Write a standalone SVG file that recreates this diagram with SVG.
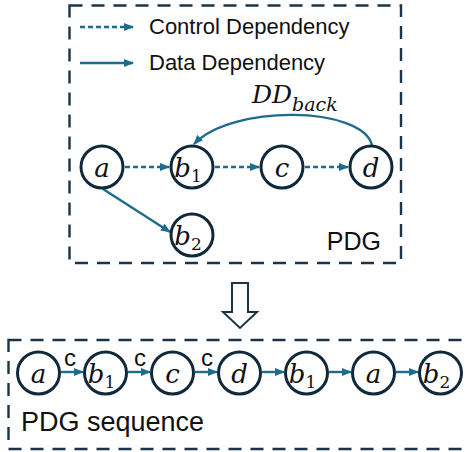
<svg xmlns="http://www.w3.org/2000/svg" width="470" height="452" viewBox="0 0 470 452">
<defs>
<marker id="ah" markerUnits="userSpaceOnUse" markerWidth="10" markerHeight="10" viewBox="0 0 10 10" refX="9" refY="5" orient="auto">
<path d="M0,1 L10,5 L0,9 z" fill="#1f6b8d"/>
</marker>
<style>
.box{fill:none;stroke:#1c3447;stroke-width:2.4;stroke-dasharray:13 9}
.node{fill:#fff;stroke:#10293a;stroke-width:3}
.dep{fill:none;stroke:#1f6b8d;stroke-width:2.4;marker-end:url(#ah)}
.ctl{stroke-dasharray:5 3}
.math{font-family:"DejaVu Serif",serif;font-style:italic;font-size:26px;fill:#111}
.sub{font-style:normal;font-size:17px}
.sans{font-family:"Liberation Sans",Arial,sans-serif;fill:#111}
.hollow{fill:#fff;stroke:#1c3447;stroke-width:2}
</style>
</defs>
<rect class="box" x="69.5" y="5.5" width="331.5" height="257.5"/>
<rect class="box" x="8.5" y="340" width="480" height="109"/>
<g id="legend">
<line class="dep ctl" x1="80" y1="27" x2="133" y2="27"/>
<text class="sans" x="149" y="34" style="font-size:22px">Control Dependency</text>
<line class="dep" x1="80" y1="63" x2="133" y2="63"/>
<text class="sans" x="149" y="70" style="font-size:22px">Data Dependency</text>
</g>
<g id="connectors">
<line class="dep ctl" x1="125" y1="167" x2="169" y2="167"/>
<line class="dep ctl" x1="215" y1="167" x2="259" y2="167"/>
<line class="dep ctl" x1="305" y1="167" x2="348" y2="167"/>
<line class="dep" x1="103" y1="189" x2="170" y2="232"/>
<path class="dep" d="M372,145 C362,106 232,104 194,144"/>
<line class="dep" x1="61" y1="372" x2="83" y2="372"/>
<line class="dep" x1="128" y1="372" x2="150" y2="372"/>
<line class="dep" x1="195" y1="372" x2="217" y2="372"/>
<line class="dep" x1="262" y1="372" x2="284" y2="372"/>
<line class="dep" x1="329" y1="372" x2="351" y2="372"/>
<line class="dep" x1="396" y1="372" x2="418" y2="372"/>
</g>
<text class="math" x="252" y="103" style="font-size:25px">DD<tspan dy="8" style="font-size:19px;font-style:italic">back</tspan></text>
<g id="n_a"><circle class="node" cx="102" cy="167" r="21"/><text class="math" x="102" y="177" text-anchor="middle">a</text></g>
<g id="n_b1"><circle class="node" cx="192" cy="167" r="21"/><text class="math" x="188" y="177" text-anchor="middle">b<tspan class="sub" dy="5">1</tspan></text></g>
<g id="n_c"><circle class="node" cx="282" cy="167" r="21"/><text class="math" x="282" y="177" text-anchor="middle">c</text></g>
<g id="n_d"><circle class="node" cx="371" cy="167" r="21"/><text class="math" x="371" y="177" text-anchor="middle">d</text></g>
<g id="n_b2"><circle class="node" cx="192" cy="235" r="21"/><text class="math" x="188" y="245" text-anchor="middle">b<tspan class="sub" dy="5">2</tspan></text></g>
<text class="sans" x="381" y="250" style="font-size:25px" text-anchor="end">PDG</text>
<g id="down_arrow"><polygon class="hollow" points="232,283 248,283 248,312 257,312 240,328 223,312 232,312"/></g>
<g id="s_a"><circle class="node" cx="38.5" cy="373" r="21"/><text class="math" x="38.5" y="383" text-anchor="middle">a</text></g>
<g id="s_b1"><circle class="node" cx="105.5" cy="373" r="21"/><text class="math" x="101.5" y="383" text-anchor="middle">b<tspan class="sub" dy="5">1</tspan></text></g>
<g id="s_c"><circle class="node" cx="172.5" cy="373" r="21"/><text class="math" x="172.5" y="383" text-anchor="middle">c</text></g>
<g id="s_d"><circle class="node" cx="239.5" cy="373" r="21"/><text class="math" x="239.5" y="383" text-anchor="middle">d</text></g>
<g id="s_b1b"><circle class="node" cx="306.5" cy="373" r="21"/><text class="math" x="302.5" y="383" text-anchor="middle">b<tspan class="sub" dy="5">1</tspan></text></g>
<g id="s_a2"><circle class="node" cx="373.5" cy="373" r="21"/><text class="math" x="373.5" y="383" text-anchor="middle">a</text></g>
<g id="s_b2"><circle class="node" cx="440.5" cy="373" r="21"/><text class="math" x="436.5" y="383" text-anchor="middle">b<tspan class="sub" dy="5">2</tspan></text></g>
<text class="sans" x="70" y="366" style="font-size:24px" text-anchor="middle">c</text>
<text class="sans" x="140" y="366" style="font-size:24px" text-anchor="middle">c</text>
<text class="sans" x="207" y="366" style="font-size:24px" text-anchor="middle">c</text>
<text class="sans" x="21" y="431" style="font-size:27px">PDG sequence</text>
</svg>
